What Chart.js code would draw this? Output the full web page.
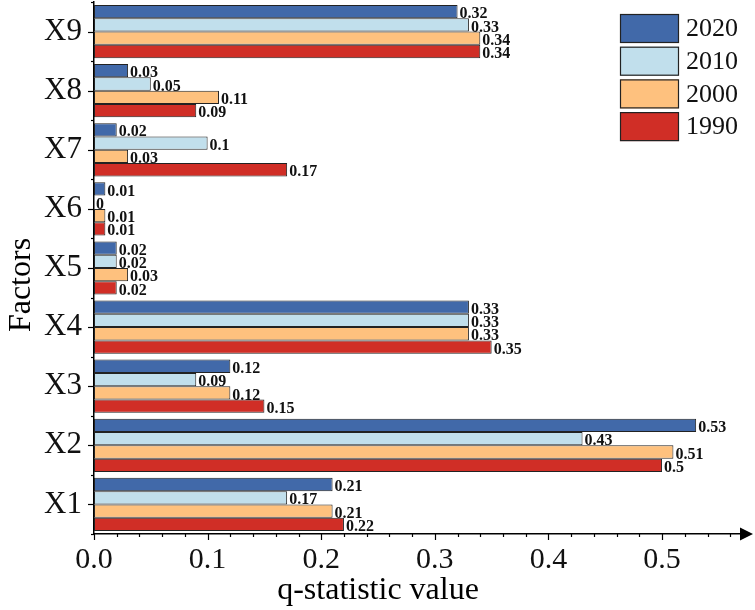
<!DOCTYPE html>
<html>
<head>
<meta charset="utf-8">
<script src="https://cdn.jsdelivr.net/npm/chart.js@4.4.1/dist/chart.umd.min.js"></script>
<style>
  html, body { margin: 0; padding: 0; background: #fff; }
  canvas { display: block; }
</style>
</head>
<body>
<canvas id="chart" width="755" height="610"></canvas>
<script>
// factors, top to bottom as in the figure
const categories = ["X9", "X8", "X7", "X6", "X5", "X4", "X3", "X2", "X1"];

const values2020 = [0.32, 0.03, 0.02, 0.01, 0.02, 0.33, 0.12, 0.53, 0.21];
const values2010 = [0.33, 0.05, 0.1, 0, 0.02, 0.33, 0.09, 0.43, 0.17];
const values2000 = [0.34, 0.11, 0.03, 0.01, 0.03, 0.33, 0.12, 0.51, 0.21];
const values1990 = [0.34, 0.09, 0.17, 0.01, 0.02, 0.35, 0.15, 0.5, 0.22];

const seriesNames = ["2020", "2010", "2000", "1990"];
const seriesColors = ["#4169a9", "#c1dfec", "#fec17e", "#d02e26"];

const xMin = 0;
const xMax = 0.573;
const xStep = 0.1;
const xMinorStep = 0.02;

const SERIF = "'Liberation Serif', 'Times New Roman', serif";
const EDGE = "#222";

// value labels at the end of each bar
const barLabels = {
  id: "barLabels",
  afterDatasetsDraw(chart) {
    const ctx = chart.ctx;
    ctx.save();
    ctx.font = "bold 16px " + SERIF;
    ctx.fillStyle = "#111";
    ctx.textAlign = "left";
    ctx.textBaseline = "alphabetic";
    chart.data.datasets.forEach((ds, di) => {
      chart.getDatasetMeta(di).data.forEach((bar, i) => {
        const p = bar.getProps(["x", "y", "height"], true);
        ctx.fillText(String(ds.data[i]), p.x + 2, p.y + p.height / 2);
      });
    });
    ctx.restore();
  }
};

// tick marks, arrow, axis titles and legend
const decorations = {
  id: "decorations",
  afterDraw(chart) {
    const ctx = chart.ctx;
    const { left, right, top, bottom } = chart.chartArea;
    const xs = chart.scales.x;
    const ys = chart.scales.y;
    ctx.save();
    ctx.strokeStyle = "#000";
    ctx.lineWidth = 1.2;

    // x ticks (major every 0.1, minor every 0.02)
    const n = Math.floor(xMax / xMinorStep + 1e-9);
    for (let k = 0; k <= n; k++) {
      const v = k * xMinorStep;
      const px = Math.round(xs.getPixelForValue(v)) + 0.5;
      const len = k % 5 === 0 ? 6 : 3;
      ctx.beginPath();
      ctx.moveTo(px, bottom);
      ctx.lineTo(px, bottom + len);
      ctx.stroke();
    }

    // y ticks (major at categories, minor between them)
    for (let i = 0; i < categories.length; i++) {
      const py = Math.round(ys.getPixelForValue(i)) + 0.5;
      ctx.beginPath();
      ctx.moveTo(left, py);
      ctx.lineTo(left - 6, py);
      ctx.stroke();
    }
    for (let i = 0; i <= categories.length; i++) {
      const py = Math.round(ys.getPixelForValue(i - 0.5)) + 0.5;
      ctx.beginPath();
      ctx.moveTo(left, py);
      ctx.lineTo(left - 3, py);
      ctx.stroke();
    }

    // arrow at the end of the x axis
    ctx.fillStyle = "#000";
    ctx.beginPath();
    ctx.moveTo(right - 5, bottom - 6.5);
    ctx.lineTo(right + 8, bottom);
    ctx.lineTo(right - 5, bottom + 6.5);
    ctx.closePath();
    ctx.fill();

    // axis titles
    ctx.font = "32px " + SERIF;
    ctx.textAlign = "center";
    ctx.textBaseline = "middle";
    const cx = (xs.getPixelForValue(0) + xs.getPixelForValue(0.5)) / 2;
    ctx.fillText("q-statistic value", cx, 591);
    ctx.save();
    ctx.translate(22, 285);
    ctx.rotate(-Math.PI / 2);
    ctx.fillText("Factors", 0, 0);
    ctx.restore();

    // legend
    ctx.font = "26px " + SERIF;
    ctx.textAlign = "left";
    ctx.lineWidth = 1.2;
    ctx.strokeStyle = EDGE;
    chart.data.datasets.forEach((ds, i) => {
      const bx = 620, by = 14 + i * 32.7, bw = 59, bh = 29;
      ctx.fillStyle = ds.backgroundColor;
      ctx.fillRect(bx, by, bw, bh);
      ctx.strokeRect(bx + 0.5, by + 0.5, bw - 1, bh - 1);
      ctx.fillStyle = "#111";
      ctx.fillText(ds.label, 686, by + bh / 2 + 1);
    });
    ctx.restore();
  }
};

const seriesValues = [values2020, values2010, values2000, values1990];

new Chart(document.getElementById("chart"), {
  type: "bar",
  data: {
    labels: categories,
    datasets: seriesNames.map((name, i) => ({
      label: name,
      data: seriesValues[i],
      backgroundColor: seriesColors[i],
      borderColor: EDGE,
      borderWidth: 1,
      borderSkipped: false,
      categoryPercentage: 0.9,
      barPercentage: 1.0
    }))
  },
  options: {
    indexAxis: "y",
    responsive: false,
    animation: false,
    layout: { padding: { top: 2, right: 10, left: 0, bottom: 0 } },
    plugins: {
      legend: { display: false },
      tooltip: { enabled: false }
    },
    scales: {
      x: {
        min: xMin,
        max: xMax,
        grid: { display: false, drawTicks: false },
        border: { display: true, color: "#000", width: 1.5 },
        ticks: {
          stepSize: xStep,
          includeBounds: false,
          padding: 8,
          color: "#111",
          font: { family: SERIF, size: 30 },
          callback: (v) => Number(v).toFixed(1)
        },
        afterFit: (scale) => {
          scale.height = 76;
          scale.paddingLeft = 0;
          scale.paddingRight = 0;
        }
      },
      y: {
        grid: { display: false, drawTicks: false },
        border: { display: true, color: "#000", width: 1.5 },
        ticks: {
          padding: 12,
          color: "#111",
          font: { family: SERIF, size: 31 }
        },
        afterFit: (scale) => {
          scale.width = 94;
          scale.paddingTop = 0;
          scale.paddingBottom = 0;
        }
      }
    }
  },
  plugins: [barLabels, decorations]
});
</script>
</body>
</html>
